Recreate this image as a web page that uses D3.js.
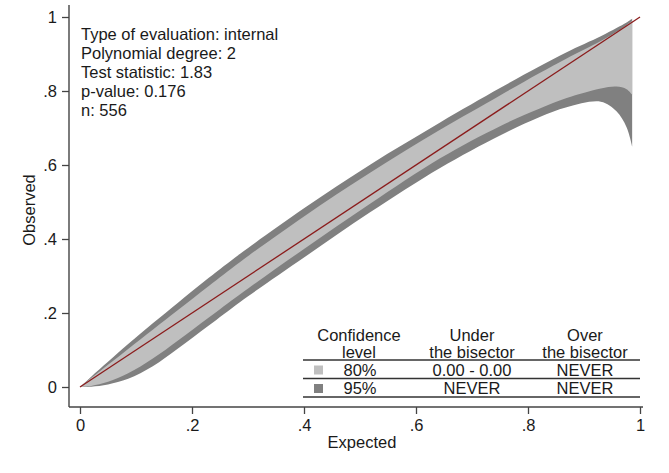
<!DOCTYPE html>
<html>
<head>
<meta charset="utf-8">
<script src="https://cdn.jsdelivr.net/npm/d3@7"></script>
<style>
  html, body { margin: 0; padding: 0; background: #fff; }
  svg { display: block; font-family: "Liberation Sans", Arial, sans-serif; }
</style>
</head>
<body>
<svg id="chart" width="669" height="473"></svg>
<script>
// ---- data ----
const expected = [0, 0.02, 0.05, 0.086, 0.13, 0.175, 0.23, 0.286, 0.4, 0.518, 0.643, 0.75, 0.82, 0.869, 0.93, 0.958, 0.976, 0.986];
const upper95 = [0, 0.028, 0.068, 0.116, 0.172, 0.228, 0.295, 0.360, 0.483, 0.601, 0.715, 0.808, 0.866, 0.905, 0.948, 0.970, 0.985, 0.995];
const upper80 = [0, 0.024, 0.060, 0.103, 0.155, 0.208, 0.273, 0.338, 0.461, 0.579, 0.695, 0.788, 0.848, 0.888, 0.935, 0.960, 0.978, 0.990];
const lower80 = [0, 0.003, 0.014, 0.037, 0.077, 0.126, 0.188, 0.251, 0.373, 0.495, 0.618, 0.705, 0.752, 0.781, 0.807, 0.812, 0.805, 0.790];
const lower95 = [0, 0.001, 0.007, 0.022, 0.056, 0.104, 0.166, 0.230, 0.350, 0.472, 0.592, 0.680, 0.729, 0.756, 0.771, 0.745, 0.702, 0.650];
const bisector = [0, 1];

const xTicks = [0, 0.2, 0.4, 0.6, 0.8, 1];
const yTicks = [0, 0.2, 0.4, 0.6, 0.8, 1];
const tickLabel = v => v === 0 ? "0" : v === 1 ? "1" : String(v).replace(/^0/, "");

const infoLines = ["Type of evaluation: internal", "Polynomial degree: 2", "Test statistic: 1.83", "p-value: 0.176", "n: 556"];

const tableHeader = [["Confidence", "level"], ["Under", "the bisector"], ["Over", "the bisector"]];
const levels = ["80%", "95%"];
const underBisector = ["0.00 - 0.00", "NEVER"];
const overBisector = ["NEVER", "NEVER"];

// ---- styles ----
const DARK = "#808080", LIGHT = "#bfbfbf", RED = "#8b1c1c", INK = "#1a1a1a", AX = "#444";
const FS = 16.5;

const svg = d3.select("#chart");
const x = d3.scaleLinear().domain([0, 1]).range([80, 640]);
const y = d3.scaleLinear().domain([0, 1]).range([387, 17]);

const xAxisY = 407, yAxisX = 69;

// bands
const band95 = expected.map((e, i) => ({ x: e, lo: lower95[i], hi: upper95[i] }));
const band80 = expected.map((e, i) => ({ x: e, lo: lower80[i], hi: upper80[i] }));
const area = d3.area().x(d => x(d.x)).y0(d => y(d.lo)).y1(d => y(d.hi)).curve(d3.curveCatmullRom.alpha(0.5));
svg.append("path").datum(band95).attr("d", area).attr("fill", DARK);
svg.append("path").datum(band80).attr("d", area).attr("fill", LIGHT);

// bisector
svg.append("path").datum(bisector)
  .attr("d", d3.line().x(d => x(d)).y(d => y(d)))
  .attr("stroke", RED).attr("stroke-width", 1.3).attr("fill", "none");

// axes
const yAxis = d3.axisLeft(y).tickValues(yTicks).tickFormat(tickLabel).tickSize(7).tickPadding(5);
const gy = svg.append("g").attr("transform", `translate(${yAxisX},0)`).call(yAxis);
gy.select(".domain").remove();
svg.append("line").attr("x1", yAxisX).attr("x2", yAxisX).attr("y1", 5).attr("y2", xAxisY)
  .attr("stroke", AX).attr("stroke-width", 1.4);

const xAxis = d3.axisBottom(x).tickValues(xTicks).tickFormat(tickLabel).tickSize(7).tickPadding(5);
const gx = svg.append("g").attr("transform", `translate(0,${xAxisY})`).call(xAxis);
gx.select(".domain").remove();
svg.append("line").attr("x1", yAxisX).attr("x2", 643).attr("y1", xAxisY).attr("y2", xAxisY)
  .attr("stroke", AX).attr("stroke-width", 1.4);

[gx, gy].forEach(g => {
  g.selectAll(".tick line").attr("stroke", AX).attr("stroke-width", 1.3);
  g.selectAll(".tick text").attr("fill", INK).style("font-size", FS + "px")
    .style("font-family", '"Liberation Sans", Arial, sans-serif');
});

// axis titles
svg.append("text").attr("x", 362).attr("y", 448).attr("text-anchor", "middle")
  .attr("fill", INK).style("font-size", FS + "px").text("Expected");
svg.append("text").attr("transform", "translate(35,210) rotate(-90)").attr("text-anchor", "middle")
  .attr("fill", INK).style("font-size", FS + "px").text("Observed");

// info text
svg.append("g").selectAll("text").data(infoLines).join("text")
  .attr("x", 81).attr("y", (d, i) => 39.5 + i * 19)
  .attr("fill", INK).style("font-size", FS + "px").text(d => d);

// table legend
const colX = [359, 472, 585];
const hdr = svg.append("g");
tableHeader.forEach((lines, c) => {
  lines.forEach((t, r) => {
    hdr.append("text").attr("x", colX[c]).attr("y", 340.5 + r * 17.5).attr("text-anchor", "middle")
      .attr("fill", INK).style("font-size", FS + "px").text(t);
  });
});
[360, 378.5, 397].forEach(ly => {
  svg.append("line").attr("x1", 303).attr("x2", 640).attr("y1", ly).attr("y2", ly)
    .attr("stroke", "#333").attr("stroke-width", 1.5);
});
const rowY = [375.5, 394];
const swatch = [LIGHT, DARK];
levels.forEach((lv, i) => {
  svg.append("rect").attr("x", 314).attr("y", rowY[i] - 10).attr("width", 9).attr("height", 9).attr("fill", swatch[i]);
  [lv, underBisector[i], overBisector[i]].forEach((t, c) => {
    svg.append("text").attr("x", colX[c] + (c === 0 ? 1 : 0)).attr("y", rowY[i]).attr("text-anchor", "middle")
      .attr("fill", INK).style("font-size", FS + "px").text(t);
  });
});
</script>
</body>
</html>
